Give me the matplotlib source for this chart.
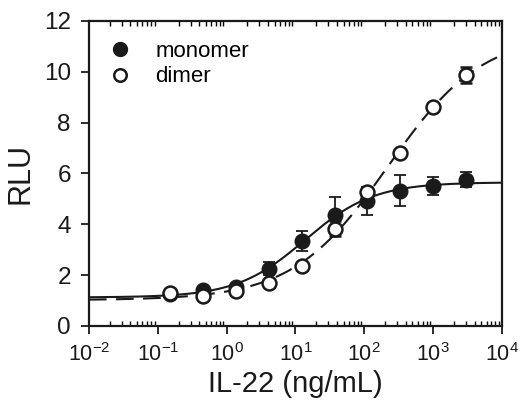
import numpy as np
import matplotlib
matplotlib.use("Agg")
import matplotlib.pyplot as plt
from matplotlib.lines import Line2D
from matplotlib.ticker import LogLocator, NullFormatter

plt.rcParams['font.family'] = ['Liberation Sans', 'DejaVu Sans']

conc = [0.152, 0.457, 1.37, 4.12, 12.3, 37.0, 111.0, 333.0, 1000.0, 3000.0]
monomer = [1.25, 1.40, 1.55, 2.25, 3.33, 4.38, 4.90, 5.32, 5.50, 5.75]
monomer_err = [0.10, 0.10, 0.12, 0.25, 0.40, 0.70, 0.55, 0.60, 0.35, 0.30]
dimer = [1.30, 1.18, 1.38, 1.70, 2.34, 3.82, 5.25, 6.80, 8.60, 9.87]
dimer_err = [0.08, 0.08, 0.08, 0.10, 0.12, 0.30, 0.20, 0.12, 0.12, 0.30]
# four-parameter logistic fits (bottom, top, EC50, hill)
monomer_fit = [1.122, 5.650, 13.80, 0.870]
dimer_fit = [1.017, 11.519, 218.78, 0.630]
xticks = [1e-2, 1e-1, 1e0, 1e1, 1e2, 1e3, 1e4]
xticklabels = ['$\\mathregular{10^{-2}}$', '$\\mathregular{10^{-1}}$', '$\\mathregular{10^{0}}$',
               '$\\mathregular{10^{1}}$', '$\\mathregular{10^{2}}$', '$\\mathregular{10^{3}}$',
               '$\\mathregular{10^{4}}$']
yticks = [0, 2, 4, 6, 8, 10, 12]


def fourpl(x, p):
    B, T, E, h = p
    return B + (T - B) / (1.0 + (E / x) ** h)


xs = np.logspace(-2, 4, 400)
ink = '#1a1a1a'

fig = plt.figure(figsize=(5.23, 4.09), dpi=100)
ax = fig.add_axes([0.170, 0.203, 0.790, 0.746])

ax.plot(xs, fourpl(xs, monomer_fit), color=ink, lw=1.5, zorder=2)
ax.plot(xs, fourpl(xs, dimer_fit), color=ink, lw=1.5, dashes=(8.5, 4.5), zorder=2)

ax.errorbar(conc, monomer, yerr=monomer_err, fmt='o', color=ink, ms=10.5,
            mec=ink, mfc=ink, elinewidth=1.3, capsize=4, capthick=1.3, zorder=3)
ax.errorbar(conc, dimer, yerr=dimer_err, fmt='o', color=ink, ms=10, mew=1.8,
            mec=ink, mfc='white', elinewidth=1.3, capsize=4, capthick=1.3, zorder=4)

ax.set_xscale('log')
ax.set_xlim(1e-2, 1e4)
ax.set_ylim(0, 12)
ax.set_xticks(xticks)
ax.set_xticklabels(xticklabels)
ax.xaxis.set_minor_locator(LogLocator(base=10, subs=np.arange(2, 10), numticks=20))
ax.xaxis.set_minor_formatter(NullFormatter())
ax.set_yticks(yticks)

ax.tick_params(axis='x', which='major', direction='out', length=6, width=1.3,
               labelsize=15.5, colors=ink, pad=6)
ax.tick_params(axis='x', which='minor', direction='in', length=3.5, width=1.0,
               top=True, bottom=True)
ax.tick_params(axis='y', which='major', direction='out', length=6, width=1.3,
               labelsize=17.5, colors=ink, pad=7)
for s in ax.spines.values():
    s.set_linewidth(1.6)
    s.set_color(ink)

ax.set_xlabel('IL-22 (ng/mL)', fontsize=21, color=ink, labelpad=3)
ax.set_ylabel('RLU', fontsize=22, color=ink, labelpad=6)

handles = [Line2D([], [], ls='none', marker='o', ms=10, mfc=ink, mec=ink),
           Line2D([], [], ls='none', marker='o', ms=9, mew=1.8, mfc='white', mec=ink)]
ax.legend(handles, ['monomer', 'dimer'], loc='upper left', frameon=False, fontsize=16,
          handletextpad=1.1, borderaxespad=0.5, labelspacing=0.2, handlelength=1.0,
          bbox_to_anchor=(0.0, 1.0))

fig.savefig('out.png', dpi=100)
